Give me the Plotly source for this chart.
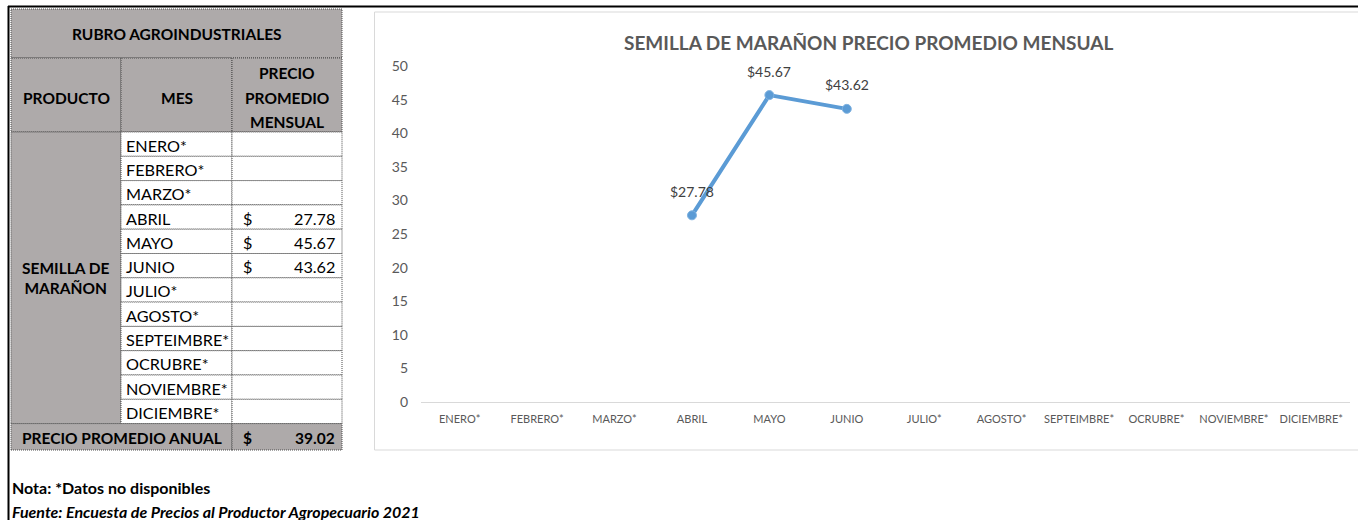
import plotly.graph_objects as go

# ---------------- data ----------------
months = ["ENERO*", "FEBRERO*", "MARZO*", "ABRIL", "MAYO", "JUNIO", "JULIO*",
          "AGOSTO*", "SEPTEIMBRE*", "OCRUBRE*", "NOVIEMBRE*", "DICIEMBRE*"]
prices = [None, None, None, 27.78, 45.67, 43.62, None, None, None, None, None, None]
annual_avg = 39.02
product = "SEMILLA DE<br>MARAÑON"
rubro = "RUBRO AGROINDUSTRIALES"
chart_title = "SEMILLA DE MARAÑON PRECIO PROMEDIO MENSUAL"
y_ticks = [0, 5, 10, 15, 20, 25, 30, 35, 40, 45, 50]
note = "Nota: *Datos no disponibles"
source = "Fuente: Encuesta de Precios al Productor Agropecuario 2021"

# ---------------- layout helpers ----------------
W, H = 1358, 520
FONT = "Lato"
GRAY_FILL = "#AEAAAA"
BORDER = "#4a4a4a"
REG = 16.2
BOLD = 15.5


def X(px):
    return px / W


def Y(py):
    return 1 - py / H


shapes = []
annotations = []


def rect(x0, y0, x1, y1, fill=None, color=BORDER, dash="1px,1px", width=1):
    shapes.append(dict(type="rect", xref="paper", yref="paper",
                       x0=X(x0), x1=X(x1), y0=Y(y1), y1=Y(y0),
                       fillcolor=fill if fill else "rgba(0,0,0,0)",
                       line=dict(color=color, width=width, dash=dash), layer="below"))


def text(px, py, s, size=REG, anchor="center", color="#000000"):
    annotations.append(dict(xref="paper", yref="paper", x=X(px), y=Y(py), text=s,
                            showarrow=False, xanchor=anchor, yanchor="middle",
                            font=dict(family=FONT, size=size, color=color)))


# ---------------- table ----------------
c0, c1, c2, c3 = 11, 121, 232, 342
r0, r1, r2 = 9, 58, 132
rh = 24.3
rlast = r2 + rh * len(months)
rend = 450

rect(c0, r0, c3, r1, fill=GRAY_FILL)
text((c0 + c3) / 2, (r0 + r1) / 2, "<b>" + rubro + "</b>", size=BOLD)
rect(c0, r1, c1, r2, fill=GRAY_FILL)
rect(c1, r1, c2, r2, fill=GRAY_FILL)
rect(c2, r1, c3, r2, fill=GRAY_FILL)
text((c0 + c1) / 2, 98, "<b>PRODUCTO</b>", size=BOLD)
text((c1 + c2) / 2, 98, "<b>MES</b>", size=BOLD)
for k, w in enumerate(["PRECIO", "PROMEDIO", "MENSUAL"]):
    text((c2 + c3) / 2, 73 + 24.5 * k, "<b>" + w + "</b>", size=BOLD)

rect(c0, r2, c1, rlast, fill=GRAY_FILL)
text((c0 + c1) / 2, 278, "<b>" + product + "</b>", size=BOLD)

for i, (m, p) in enumerate(zip(months, prices)):
    top = r2 + rh * i
    rect(c1, top, c2, top + rh, fill="#FFFFFF")
    rect(c2, top, c3, top + rh, fill="#FFFFFF")
    text(c1 + 3, top + rh / 2 + 1, m, anchor="left")
    if p is not None:
        text(c2 + 9, top + rh / 2 + 1, "$", anchor="left")
        text(c3 - 5, top + rh / 2 + 1, f"{p:.2f}", anchor="right")

rect(c0, rlast, c2, rend, fill=GRAY_FILL)
rect(c2, rlast, c3, rend, fill=GRAY_FILL)
text((c0 + c2) / 2, (rlast + rend) / 2 + 1, "<b>PRECIO PROMEDIO ANUAL</b>", size=BOLD)
text(c2 + 9, (rlast + rend) / 2 + 1, "<b>$</b>", anchor="left", size=BOLD)
text(c3 - 5, (rlast + rend) / 2 + 1, f"<b>{annual_avg:.2f}</b>", anchor="right", size=BOLD)

# notes
text(10, 487, "<b>" + note + "</b>", size=16, anchor="left")
text(10, 511, "<b><i>" + source + "</i></b>", size=16, anchor="left")

# outer black frame lines
shapes.append(dict(type="line", xref="paper", yref="paper", x0=X(8), x1=X(W + 2),
                   y0=Y(6.5), y1=Y(6.5), line=dict(color="#000000", width=2)))
shapes.append(dict(type="line", xref="paper", yref="paper", x0=X(8.5), x1=X(8.5),
                   y0=Y(6), y1=Y(H + 2), line=dict(color="#000000", width=2)))

# chart box
rect(374.5, 12, W + 5, 450, fill="#FFFFFF", color="#D9D9D9", dash="solid")
text(869, 42, "<b>" + chart_title + "</b>", size=19, color="#595959")

# ---------------- chart ----------------
xs = [m for m, p in zip(months, prices) if p is not None]
ys = [p for p in prices if p is not None]

fig = go.Figure()
# make sure every month category exists on the axis
fig.add_trace(go.Scatter(x=months, y=[None] * len(months), mode="markers",
                         showlegend=False, hoverinfo="skip"))
fig.add_trace(go.Scatter(
    x=xs, y=ys, mode="lines+markers",
    line=dict(color="#5B9BD5", width=4),
    marker=dict(color="#5B9BD5", size=9, symbol="circle",
                line=dict(color="#7FB2E0", width=1)),
    cliponaxis=False, showlegend=False, hoverinfo="skip"))

for m, p in zip(xs, ys):
    annotations.append(dict(xref="x", yref="y", x=m, y=p, text=f"${p:.2f}",
                            showarrow=False, yshift=24, xanchor="center", yanchor="middle",
                            font=dict(family=FONT, size=14, color="#404040")))

plot_left, plot_right = 421, 1350
plot_top, plot_bottom = 66, 402

fig.update_layout(
    width=W, height=H, autosize=False, showlegend=False,
    margin=dict(l=0, r=0, t=0, b=0, pad=0, autoexpand=False),
    paper_bgcolor="#FFFFFF", plot_bgcolor="rgba(0,0,0,0)",
    shapes=shapes, annotations=annotations,
    xaxis=dict(domain=[X(plot_left), X(plot_right)], type="category",
               categoryorder="array", categoryarray=months,
               range=[-0.5, len(months) - 0.5], showgrid=False, zeroline=False,
               showline=True, linecolor="#D9D9D9", linewidth=1, ticks="",
               tickfont=dict(family=FONT, size=11, color="#595959"),
               ticklabelstandoff=7, automargin=False, fixedrange=True),
    yaxis=dict(domain=[Y(plot_bottom), Y(plot_top)], range=[0, 50],
               tickvals=y_ticks, showgrid=False, zeroline=False, showline=False,
               ticks="", tickfont=dict(family=FONT, size=14, color="#595959"),
               ticklabelstandoff=12, automargin=False, fixedrange=True),
)

fig.write_html("out.html", config={"responsive": False, "displayModeBar": False},
               post_script="document.body.style.margin='0';document.body.style.overflow='hidden';")
